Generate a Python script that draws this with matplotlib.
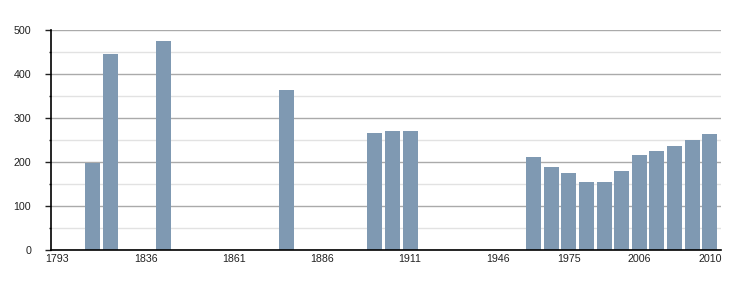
import matplotlib
matplotlib.use("Agg")
import matplotlib.pyplot as plt
from matplotlib.ticker import MultipleLocator

plt.rcParams['font.family'] = ['Liberation Sans', 'DejaVu Sans']

# census years (one slot each) and population, None = no data
years = ['1793', '1800', '1806', '1821', '1831', '1836', '1841', '1846', '1851', '1856',
         '1861', '1866', '1872', '1876', '1881', '1886', '1891', '1896', '1901', '1906',
         '1911', '1921', '1926', '1931', '1936', '1946', '1954', '1962', '1968', '1975',
         '1982', '1990', '1999', '2006', '2007', '2008', '2009', '2010']
population = [None, None, 199, 447, None, None, 476, None, None, None,
              None, None, None, 364, None, None, None, None, 266, 271,
              271, None, None, None, None, None, None, 212, 189, 176,
              155, 155, 180, 216, 225, 237, 250, 264]
shown_labels = ['1793', '1836', '1861', '1886', '1911', '1946', '1975', '2006', '2010']

fig = plt.figure(figsize=(7.5, 3), dpi=100)
ax = fig.add_axes([0.068, 0.1667, 0.8933, 0.7323])

# bars only where there is a value
xs = [i for i, v in enumerate(population) if v is not None]
hs = [v for v in population if v is not None]
ax.bar(xs, hs, width=0.85, color='#7f99b2', zorder=3)

ax.set_xlim(-0.37, len(years) - 0.37)
ax.set_ylim(0, 500)

# grid: darker at hundreds, light at fifties
ax.yaxis.set_major_locator(MultipleLocator(100))
ax.yaxis.set_minor_locator(MultipleLocator(50))
ax.grid(axis='y', which='major', color='#aaaaaa', linewidth=1, zorder=0)
ax.grid(axis='y', which='minor', color='#e2e2e2', linewidth=1, zorder=0)

tick_pos = [years.index(y) for y in shown_labels]
ax.set_xticks(tick_pos)
ax.set_xticklabels(shown_labels)
ax.tick_params(axis='x', length=0, pad=3, labelsize=7.7, colors='#222222')
ax.tick_params(axis='y', which='major', length=4.3, width=1, pad=10, labelsize=7.7, colors='#222222')
ax.tick_params(axis='y', which='minor', length=1.6, width=1, colors='#222222')

for s in ['top', 'right']:
    ax.spines[s].set_visible(False)
for s in ['left', 'bottom']:
    ax.spines[s].set_color('black')
    ax.spines[s].set_linewidth(1.2)
    ax.spines[s].set_zorder(4)

fig.savefig('out.png', dpi=100)
